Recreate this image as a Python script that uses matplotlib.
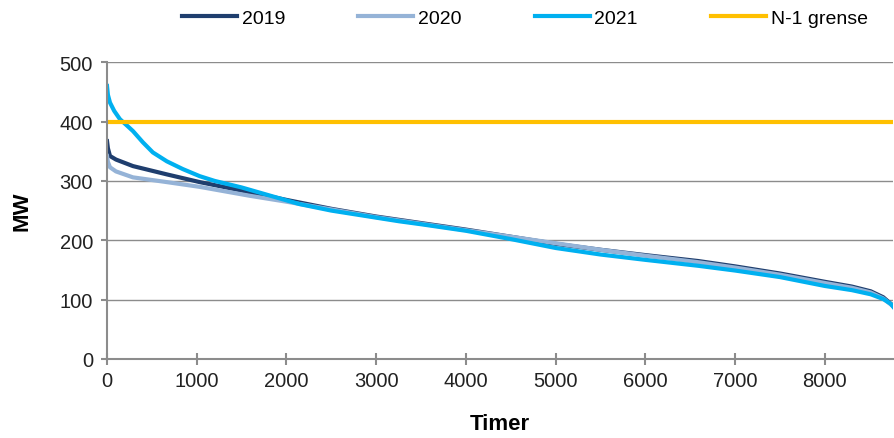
import numpy as np
import matplotlib.pyplot as plt

plt.rcParams['font.family'] = ['Liberation Sans', 'DejaVu Sans']

# duration curves (hours, MW)
t_2019 = [0, 10, 33, 100, 289, 667, 1033, 1589, 2000, 2500, 3000, 3500, 4000, 4500, 5000,
          5500, 6000, 6589, 7000, 7500, 8000, 8300, 8511, 8650, 8733, 8760]
mw_2019 = [367, 355, 342, 336, 325, 311, 298, 281, 268, 253, 240, 229, 218, 206, 194,
           184, 175, 165, 156, 144, 130, 122, 114, 104, 93, 90]

t_2020 = [0, 10, 33, 100, 289, 667, 1033, 1589, 2000, 2500, 3000, 3500, 4000, 4500, 5000,
          5500, 6000, 6589, 7000, 7500, 8000, 8300, 8511, 8650, 8733, 8760]
mw_2020 = [342, 332, 323, 316, 306, 298, 290, 275, 265, 252, 239, 228, 217, 206, 195,
           184, 174, 163, 154, 142, 128, 120, 112, 102, 92, 89]

t_2021 = [0, 10, 33, 80, 144, 210, 289, 400, 511, 667, 844, 1033, 1200, 1500, 2144, 2500, 3256,
          3500, 4000, 4500, 5000, 5500, 6000, 6589, 7000, 7500, 8000, 8300, 8511, 8650, 8733, 8760]
mw_2021 = [460, 445, 432, 418, 404, 395, 384, 365, 348, 333, 320, 308, 300, 289, 261, 250, 232,
           227, 216, 202, 187, 176, 167, 157, 149, 138, 123, 116, 109, 101, 93, 88]

n1_grense = 400

fig = plt.figure(figsize=(8.94, 4.39), dpi=100)
ax = fig.add_axes([0.1197, 0.18, 0.8793, 0.676])

ax.plot(t_2019, mw_2019, color='#1F3E6E', lw=3, label='2019')
ax.plot(t_2020, mw_2020, color='#95B3D7', lw=3, label='2020')
ax.plot(t_2021, mw_2021, color='#00B0F0', lw=3, label='2021')
ax.axhline(n1_grense, color='#FFC000', lw=3, label='N-1 grense')

ax.set_xlim(0, 8760)
ax.set_ylim(0, 500)
ax.set_xticks(np.arange(0, 8001, 1000))
ax.set_yticks(np.arange(0, 501, 100))
ax.yaxis.grid(True, color='#8C8C8C', lw=1)
ax.set_axisbelow(True)
for s in ['top', 'right']:
    ax.spines[s].set_visible(False)
for s in ['left', 'bottom']:
    ax.spines[s].set_color('#8C8C8C')
    ax.spines[s].set_linewidth(1.5)
ax.tick_params(axis='x', colors='#8C8C8C', direction='inout', length=9, width=1.5,
               labelsize=14.5, labelcolor='#222222', pad=4)
ax.tick_params(axis='y', colors='#8C8C8C', length=4, width=1.5,
               labelsize=14.5, labelcolor='#222222', pad=6)

ax.set_xlabel('Timer', fontsize=16, fontweight='bold', va='center')
ax.set_ylabel('MW', fontsize=16, fontweight='bold', va='center')
ax.xaxis.set_label_coords(0.5, -0.219)
ax.yaxis.set_label_coords(-0.108, 0.5)

fig.legend(loc='center', bbox_to_anchor=(0.587, 0.957), ncol=4, frameon=False,
           fontsize=14, handlelength=2.83, handletextpad=0.25, columnspacing=3.76)

fig.savefig('out.png', dpi=100)
